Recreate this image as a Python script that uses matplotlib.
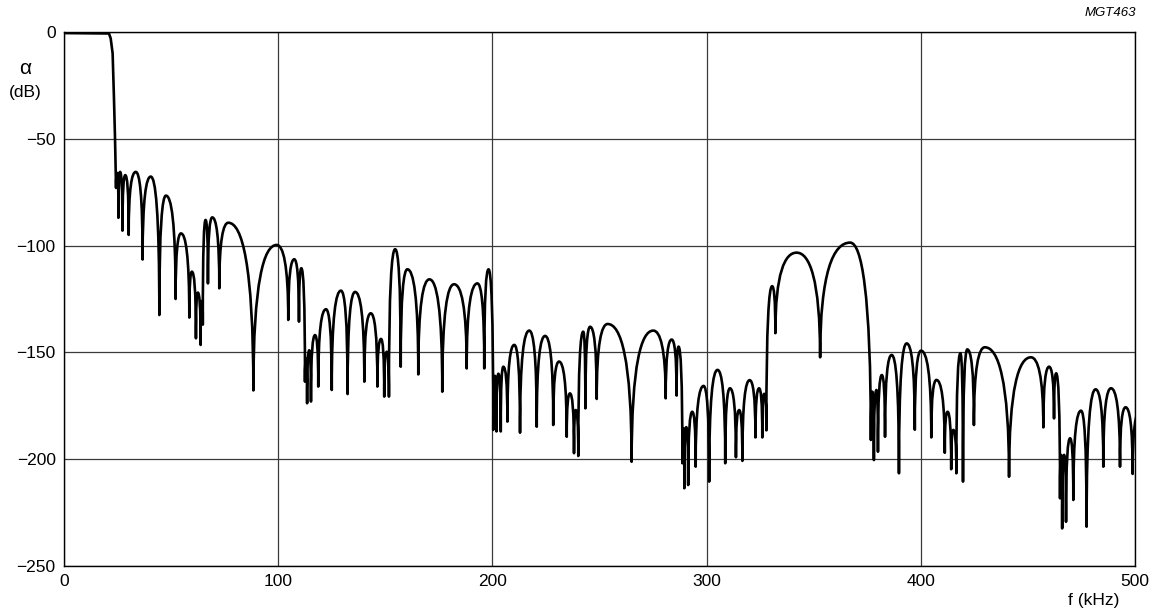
import matplotlib
matplotlib.use("Agg")
import matplotlib.pyplot as plt
from matplotlib.path import Path
from matplotlib.patches import PathPatch

plt.rcParams['font.family'] = ['Liberation Sans', 'DejaVu Sans']

# ---- data ----
# passband and transition edge (kHz, dB)
pass_f = [0.0, 21.0, 21.8, 22.7, 23.3, 23.8]
pass_a = [-0.5, -0.7, -3.0, -10.0, -30.0, -49.0]

# stopband extrema, alternating null / lobe peak (kHz)
ext_f = [24.3, 24.9, 25.4, 26.2, 27.3, 28.6, 30.2, 33.5, 36.7, 40.5,
         44.5, 47.6, 52.1, 54.6, 58.5, 59.7, 61.6, 62.5, 63.8, 64.3,
         64.8, 66.1, 67.2, 69.2, 72.5, 76.7, 88.4, 99.3, 104.7, 107.5,
         109.7, 110.8, 112.5, 113.0, 113.5, 114.5, 115.3, 117.2, 118.7, 122.3,
         125.0, 129.3, 132.4, 135.9, 140.2, 143.2, 146.3, 148.0, 149.5, 150.7,
         151.7, 154.6, 157.2, 160.3, 165.4, 170.6, 176.6, 182.1, 188.0, 193.0,
         196.2, 198.2, 200.4, 201.2, 201.9, 202.8, 203.9, 205.1, 207.0, 210.2,
         212.9, 217.2, 220.7, 224.6, 228.4, 231.1, 234.7, 236.2, 238.1, 238.9,
         240.1, 242.4, 243.4, 245.6, 248.7, 253.8, 265.0, 275.1, 280.9, 283.7,
         286.0, 286.9, 288.7, 289.2, 289.6, 290.5, 291.4, 293.3, 294.9, 298.6,
         301.2, 305.1, 308.7, 310.9, 313.7, 315.2, 316.7, 320.1, 322.8, 324.5,
         326.0, 326.9, 327.9, 330.6, 332.1, 342.0, 353.0, 367.0, 376.7, 377.4,
         378.1, 379.3, 380.0, 381.8, 383.3, 386.4, 389.8, 393.4, 397.2, 400.1,
         404.9, 407.3, 411.2, 412.5, 414.2, 415.2, 416.6, 418.5, 419.7, 421.7,
         424.8, 429.9, 441.2, 451.4, 457.2, 459.9, 462.2, 463.2, 465.0, 465.5,
         466.0, 466.9, 467.8, 469.7, 471.2, 474.8, 477.4, 481.6, 485.2, 488.8,
         493.0, 495.6, 498.9, 502.0]
# attenuation at those extrema (dB)
ext_a = [-73.0, -66.0, -87.0, -65.5, -93.0, -67.0, -95.0, -65.5, -106.5, -67.7,
         -132.5, -76.6, -125.0, -94.3, -133.7, -112.2, -143.4, -122.0, -146.5, -126.0,
         -137.0, -88.0, -117.7, -86.8, -120.0, -89.3, -167.8, -99.7, -134.8, -106.4,
         -135.6, -110.6, -163.7, -153.0, -173.8, -149.0, -173.0, -141.9, -166.0, -129.8,
         -167.6, -121.1, -169.5, -121.7, -163.7, -131.7, -166.0, -143.7, -170.7, -149.7,
         -170.7, -101.7, -156.7, -111.1, -160.3, -115.8, -168.4, -118.1, -157.5, -117.7,
         -157.5, -111.1, -186.3, -161.0, -187.0, -160.0, -187.0, -156.7, -182.4, -146.5,
         -187.6, -139.8, -184.8, -142.3, -184.0, -154.3, -189.5, -169.2, -197.2, -177.0,
         -198.5, -140.3, -176.2, -138.0, -171.8, -136.7, -201.2, -139.8, -171.5, -144.0,
         -170.2, -147.3, -201.9, -185.5, -213.6, -185.0, -212.1, -177.8, -203.5, -165.7,
         -210.5, -158.2, -201.9, -166.8, -199.1, -177.0, -200.8, -163.0, -189.8, -166.8,
         -189.8, -169.4, -186.5, -119.0, -141.0, -103.3, -152.3, -98.6, -191.0, -168.4,
         -200.4, -167.6, -196.5, -160.6, -189.5, -151.2, -206.6, -145.8, -186.2, -149.2,
         -189.8, -162.9, -197.0, -177.8, -204.7, -186.3, -206.6, -150.4, -210.5, -148.6,
         -184.0, -147.6, -208.2, -152.3, -185.1, -156.7, -180.9, -159.8, -218.3, -198.0,
         -232.4, -198.0, -229.3, -190.2, -219.1, -177.3, -231.6, -167.3, -203.5, -166.8,
         -203.5, -175.7, -206.9, -178.0]

x_ticks = [0, 100, 200, 300, 400, 500]
y_ticks = [0, -50, -100, -150, -200, -250]
y_tick_labels = ['0', '\u221250', '\u2212100', '\u2212150', '\u2212200', '\u2212250']

# ---- figure ----
W, H = 1152, 609
fig = plt.figure(figsize=(W / 100, H / 100), dpi=100)
ax = fig.add_axes([64 / W, 1 - 566 / H, (1135 - 64) / W, (566 - 32) / H])
ax.set_xlim(0, 500)
ax.set_ylim(-250, 0)

# build the response path: straight passband, then rounded lobes between extrema
verts = [(pass_f[0], pass_a[0])]
codes = [Path.MOVETO]
for f, a in zip(pass_f[1:], pass_a[1:]):
    verts.append((f, a))
    codes.append(Path.LINETO)
verts.append((ext_f[0], ext_a[0]))
codes.append(Path.LINETO)
for i in range(1, len(ext_f)):
    x0, y0 = ext_f[i - 1], ext_a[i - 1]
    x1, y1 = ext_f[i], ext_a[i]
    if y1 > y0:   # rising from a null to a lobe peak
        c1 = (x0, y0 + 0.75 * (y1 - y0))
        c2 = (x0 + 0.45 * (x1 - x0), y1)
    else:         # falling from a peak into a null
        c1 = (x0 + 0.55 * (x1 - x0), y0)
        c2 = (x1, y1 + 0.75 * (y0 - y1))
    verts += [c1, c2, (x1, y1)]
    codes += [Path.CURVE4] * 3

patch = PathPatch(Path(verts, codes), facecolor='none', edgecolor='black',
                  lw=1.9, joinstyle='round', capstyle='round', zorder=3)
ax.add_patch(patch)

ax.set_xticks(x_ticks)
ax.set_xticklabels([str(t) for t in x_ticks])
ax.set_yticks(y_ticks)
ax.set_yticklabels(y_tick_labels)
ax.tick_params(length=0, labelsize=12.5, colors='black')
ax.tick_params(axis='x', pad=6)
ax.tick_params(axis='y', pad=6)
ax.grid(True, color='#3a3a3a', lw=0.9)
ax.set_axisbelow(True)
for s in ax.spines.values():
    s.set_color('black')
    s.set_linewidth(1.0)

fig.text(25 / W, 1 - 68 / H, '\u03b1', ha='center', va='center', fontsize=15)
fig.text(25 / W, 1 - 92 / H, '(dB)', ha='center', va='center', fontsize=12.5)
fig.text(1094 / W, 1 - 601 / H, 'f (kHz)', ha='center', va='center', fontsize=12.5)
fig.text(1136 / W, 1 - 13 / H, 'MGT463', ha='right', va='center', fontsize=9.5,
         style='italic')

fig.savefig('out.png', dpi=100, facecolor='white')
